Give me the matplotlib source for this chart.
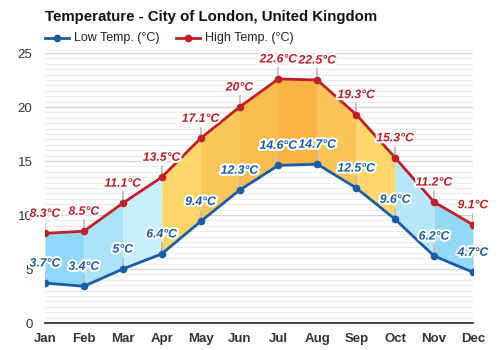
import matplotlib
matplotlib.use("Agg")
import matplotlib.pyplot as plt
import matplotlib.patheffects as pe
from matplotlib.lines import Line2D

months = ["Jan", "Feb", "Mar", "Apr", "May", "Jun",
          "Jul", "Aug", "Sep", "Oct", "Nov", "Dec"]
low_temp = [3.7, 3.4, 5.0, 6.4, 9.4, 12.3, 14.6, 14.7, 12.5, 9.6, 6.2, 4.7]
high_temp = [8.3, 8.5, 11.1, 13.5, 17.1, 20.0, 22.6, 22.5, 19.3, 15.3, 11.2, 9.1]

# fill colour of each month-to-month band
band_colors = ["#8fd8f7", "#ade3fa", "#c9eefc", "#fdd669", "#fcc75a",
               "#fbbd4e", "#fab444", "#fcc458", "#fdd66c", "#b6e7fb",
               "#93d9f7"]

LOW_COLOR = "#1a5da6"
HIGH_COLOR = "#c0202a"

plt.rcParams["font.family"] = ["Liberation Sans", "DejaVu Sans"]

fig = plt.figure(figsize=(5, 3.5), dpi=100)
ax = fig.add_axes([45 / 500, 1 - 323 / 350, (473 - 45) / 500, (323 - 53) / 350])

x = list(range(len(months)))

for i in range(len(months) - 1):
    ax.fill_between([i, i + 1], [low_temp[i], low_temp[i + 1]],
                    [high_temp[i], high_temp[i + 1]],
                    color=band_colors[i], linewidth=0, zorder=1)

ax.plot(x, low_temp, color=LOW_COLOR, lw=2, marker="o", ms=4.5, zorder=4)
ax.plot(x, high_temp, color=HIGH_COLOR, lw=2, marker="o", ms=4.5, zorder=4)

outline = [pe.withStroke(linewidth=3, foreground="white")]


def fmt(v):
    return f"{v:g}°C"


for xi, lo, hi in zip(x, low_temp, high_temp):
    for val, col in ((lo, LOW_COLOR), (hi, HIGH_COLOR)):
        ax.plot([xi, xi], [val, val + 1.0], color="#bbbbbb", lw=1.2, zorder=2)
        ax.annotate(fmt(val), (xi, val), xytext=(0, 14), textcoords="offset points",
                    ha="center", va="center", fontsize=8.8, fontweight="bold",
                    fontstyle="italic", color=col, path_effects=outline,
                    zorder=5, annotation_clip=False)

ax.set_xlim(0, 11)
ax.set_ylim(0, 25)
ax.set_yticks([0, 5, 10, 15, 20, 25])
ax.set_yticks([v / 2 for v in range(51)], minor=True)
ax.set_xticks(x)
ax.set_xticklabels(months, fontweight="bold")
ax.tick_params(axis="x", length=0, pad=7, labelsize=9.5, colors="#333333")
ax.tick_params(axis="y", length=0, pad=9, labelsize=9.5, colors="#333333")
ax.tick_params(axis="y", which="minor", length=0)

ax.grid(axis="y", which="major", color="#d6d6d6", lw=1, zorder=0)
ax.grid(axis="y", which="minor", color="#ececec", lw=0.8, zorder=0)
ax.set_axisbelow(True)

for side in ("top", "right", "left"):
    ax.spines[side].set_visible(False)
ax.spines["bottom"].set_color("#222222")
ax.spines["bottom"].set_linewidth(1.2)

fig.text(45 / 500, 1 - 17 / 350, "Temperature - City of London, United Kingdom",
         fontsize=10.8, fontweight="bold", va="center", ha="left", color="#111111")

# legend drawn by hand
ly = 1 - 38 / 350
for x0, col, label in ((45, LOW_COLOR, "Low Temp. (°C)"),
                       (176, HIGH_COLOR, "High Temp. (°C)")):
    fig.add_artist(Line2D([x0 / 500, (x0 + 24) / 500], [ly, ly], color=col, lw=2))
    fig.add_artist(Line2D([(x0 + 12) / 500], [ly], color=col, marker="o", ms=4.5))
    fig.text((x0 + 29) / 500, ly, label, fontsize=9, va="center", ha="left",
             color="#222222")

fig.savefig("out.png", dpi=100)
